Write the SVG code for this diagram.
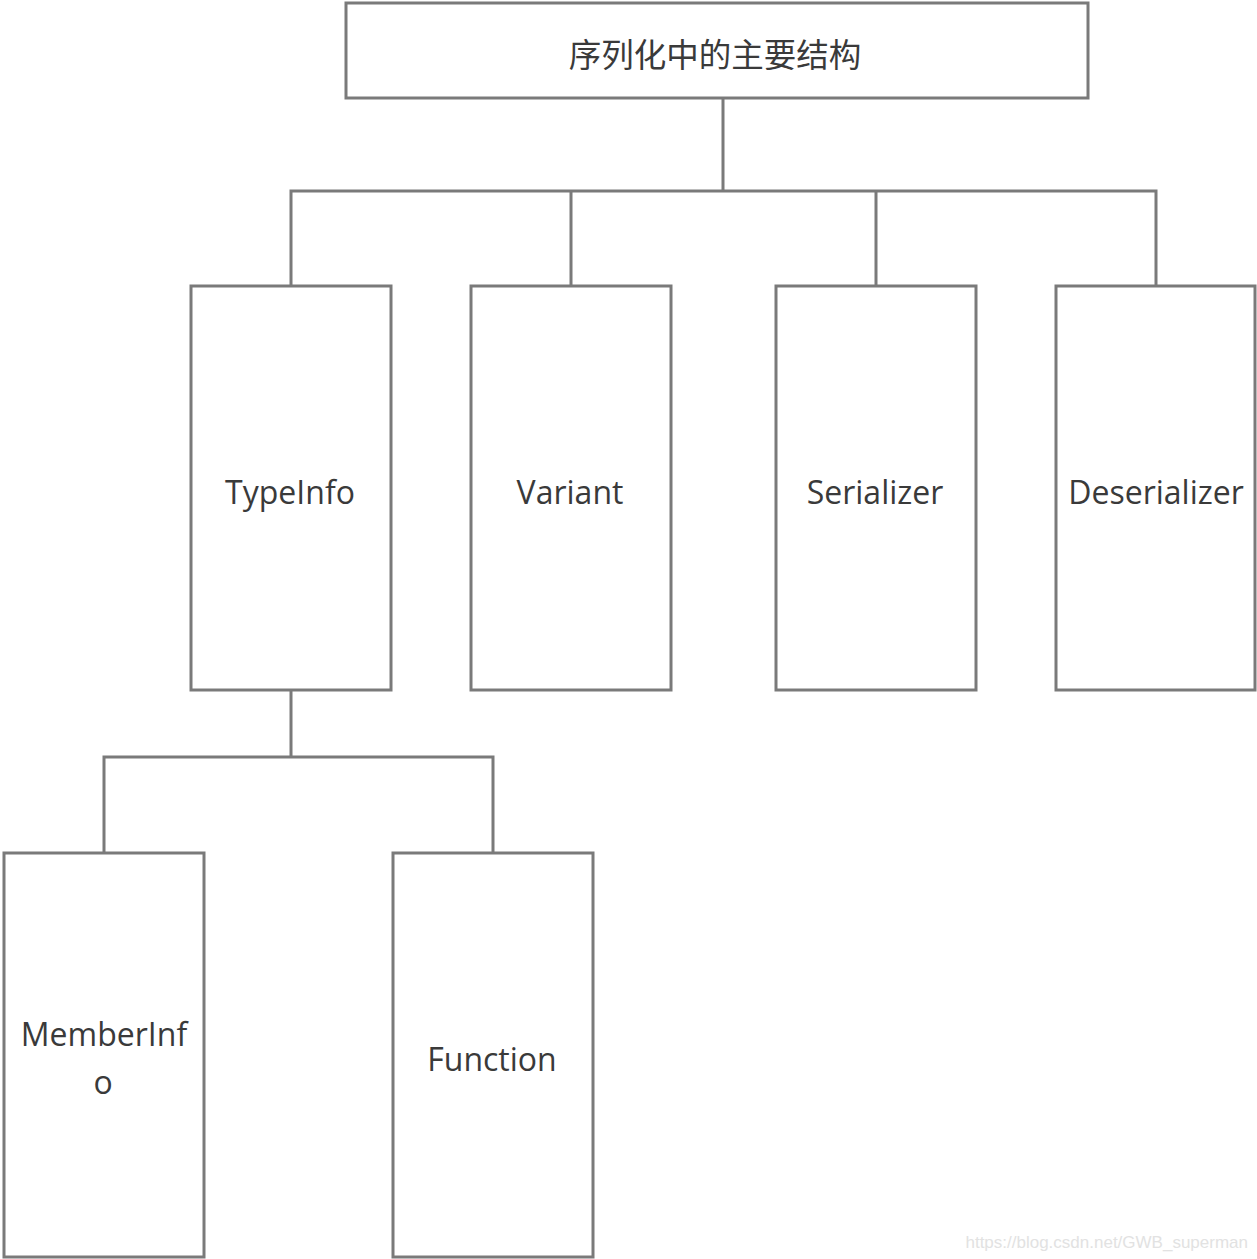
<svg xmlns="http://www.w3.org/2000/svg" width="1257" height="1259" viewBox="0 0 1257 1259">
<style>
.box{fill:#fff;stroke:#7a7a7a;stroke-width:3}
.lbl{font-family:"Open Sans","Noto Sans","Noto Sans CJK SC",sans-serif;font-size:32px;fill:#3a3a3a;text-anchor:middle}
.cn{font-family:"Noto Sans CJK SC",sans-serif;font-size:32.5px;fill:#3a3a3a;text-anchor:middle}
.conn{fill:none;stroke:#7a7a7a;stroke-width:3}
.wm{font-family:"Liberation Sans",sans-serif;font-size:17px;fill:#e2e2e2;text-anchor:end}
</style>
<rect width="1257" height="1259" fill="#fff"/>
<g id="connectors">
<path class="conn" d="M723 98V191M291 286V191H1156V286M571 191V286M876 191V286"/>
<path class="conn" d="M291 690V757M104 853V757H493V853"/>
</g>
<g id="root"><rect class="box" x="346" y="3" width="742" height="95"/><text class="cn" x="715" y="67">序列化中的主要结构</text></g>
<g id="typeinfo"><rect class="box" x="191" y="286" width="200" height="404"/><text class="lbl" x="290" y="504">TypeInfo</text></g>
<g id="variant"><rect class="box" x="471" y="286" width="200" height="404"/><text class="lbl" x="570" y="504">Variant</text></g>
<g id="serializer"><rect class="box" x="776" y="286" width="200" height="404"/><text class="lbl" x="875" y="504">Serializer</text></g>
<g id="deserializer"><rect class="box" x="1056" y="286" width="199" height="404"/><text class="lbl" x="1156" y="504">Deserializer</text></g>
<g id="memberinfo"><rect class="box" x="4" y="853" width="200" height="404"/><text class="lbl" x="104" y="1046">MemberInf</text><text class="lbl" x="103" y="1094">o</text></g>
<g id="function"><rect class="box" x="393" y="853" width="200" height="404"/><text class="lbl" x="492" y="1071">Function</text></g>
<text class="wm" x="1248" y="1248">https://blog.csdn.net/GWB_superman</text>
</svg>
